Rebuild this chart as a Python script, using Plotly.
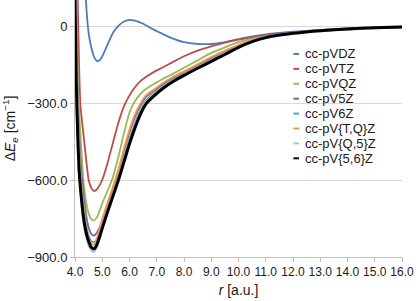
import plotly.graph_objects as go

# ---------------- data ----------------
r_dz = [4.3, 4.4, 4.5, 4.6, 4.7, 4.8, 4.9, 5.0, 5.2, 5.4, 5.6, 5.8, 6.0, 6.2, 6.5,
        6.8, 7.1, 7.5, 8.0, 8.5, 9.0, 9.5, 10.0, 10.5, 11.0, 12.0, 13.0, 14.0, 15.0, 16.0]
cc_pVDZ = [400, 105, -25, -82, -118, -133, -131, -115, -68, -22, 5, 21, 27, 24, 12,
           -6, -22, -42, -60, -67, -67, -60, -48, -37, -29, -19, -12, -6, -3, -1]

r = [4.0, 4.05, 4.1, 4.15, 4.2, 4.3, 4.4, 4.5, 4.6, 4.7, 4.8, 4.9, 5.0, 5.2, 5.4, 5.6, 5.8,
     6.0, 6.2, 6.4, 6.6, 6.9, 7.2, 7.6, 8.0, 8.5, 9.0, 9.5, 10.0, 10.5, 11.0, 11.5, 12.0,
     13.0, 14.0, 15.0, 16.0]
cc_pVTZ = [900, 480, 105, -150, -310, -410, -510, -598, -630, -642, -636, -620, -598, -530,
           -450, -372, -310, -268, -236, -212, -196, -176, -160, -137, -115, -93, -76, -62,
           -50, -41, -33, -27, -22, -13, -7, -3, -1]
cc_pVQZ = [600, 280, -200, -330, -420, -590, -680, -730, -752, -757, -745, -720, -690, -640,
           -585, -505, -415, -335, -290, -263, -243, -223, -205, -183, -160, -131, -102, -80,
           -60, -46, -37, -30, -24, -14, -7, -3, -1]
cc_pV5Z = [400, 60, -300, -420, -520, -640, -730, -785, -810, -816, -805, -785, -758, -695,
           -632, -562, -485, -412, -352, -308, -275, -250, -226, -199, -178, -150, -122, -96,
           -72, -53, -40, -31, -24, -14, -8, -3, -1]
cc_pV6Z = [300, -60, -360, -480, -575, -690, -770, -815, -838, -842, -832, -805, -772, -708,
           -645, -578, -508, -437, -375, -325, -288, -260, -233, -205, -184, -156, -129, -102,
           -76, -56, -41, -32, -25, -15, -8, -4, -1]
cc_pV_TQ_Z = [320, -40, -350, -475, -570, -690, -775, -825, -848, -851, -828, -790, -750, -685,
              -622, -555, -475, -402, -342, -300, -268, -245, -221, -195, -174, -146, -118, -93,
              -70, -52, -39, -31, -24, -14, -8, -3, -1]
cc_pV_Q5_Z = [150, -200, -410, -550, -620, -740, -810, -850, -872, -877, -858, -825, -788, -720,
              -657, -592, -524, -452, -390, -338, -298, -267, -240, -211, -188, -160, -133, -106,
              -79, -58, -42, -32, -25, -15, -8, -4, -1]
cc_pV_56_Z = [105, -230, -420, -560, -630, -735, -800, -838, -862, -868, -852, -822, -787, -722,
              -660, -597, -527, -457, -395, -342, -302, -270, -243, -214, -190, -162, -135, -108,
              -80, -58, -42, -32, -25, -15, -8, -4, -1]

series_names = ["cc-pVDZ", "cc-pVTZ", "cc-pVQZ", "cc-pV5Z", "cc-pV6Z",
                "cc-pV{T,Q}Z", "cc-pV{Q,5}Z", "cc-pV{5,6}Z"]
x_ticks = [4.0, 5.0, 6.0, 7.0, 8.0, 9.0, 10.0, 11.0, 12.0, 13.0, 14.0, 15.0, 16.0]
y_ticks = [0, -300, -600, -900]
y_tick_labels = ["0", "\u2212300.0", "\u2212600.0", "\u2212900.0"]

# ---------------- style ----------------
colors = ["#4a7ebb", "#be4b48", "#98b954", "#7d60a0", "#46aac5", "#f79646", "#a9c0e3", "#000000"]
widths = [1.8, 1.8, 1.8, 1.8, 1.8, 1.8, 3.0, 3.0]

xs = [r_dz] + [r] * 7
ys = [cc_pVDZ, cc_pVTZ, cc_pVQZ, cc_pV5Z, cc_pV6Z, cc_pV_TQ_Z, cc_pV_Q5_Z, cc_pV_56_Z]

fig = go.Figure()
for name, x, y, c, w in zip(series_names, xs, ys, colors, widths):
    fig.add_trace(go.Scatter(x=x, y=y, name=name, mode="lines",
                             line=dict(color=c, width=w, shape="spline", smoothing=0.6),
                             showlegend=False))

# custom compact legend (matches reference spacing)
x0, y0, dy = 0.668, 0.79, 0.058
for i, (name, c) in enumerate(zip(series_names, colors)):
    yy = y0 - i * dy
    fig.add_shape(type="line", xref="paper", yref="paper",
                  x0=x0, x1=x0 + 0.017, y0=yy, y1=yy,
                  line=dict(color=c, width=2))
    fig.add_annotation(xref="paper", yref="paper", x=x0 + 0.03, y=yy, text=name,
                       showarrow=False, xanchor="left", yanchor="middle",
                       font=dict(size=13, color="#1a1a1a"))

fig.update_layout(
    width=417, height=301,
    margin=dict(l=75, r=15, t=0, b=44),
    paper_bgcolor="white", plot_bgcolor="white",
    font=dict(family="Liberation Sans, Arial, sans-serif", color="#1a1a1a"),
)
fig.update_xaxes(range=[4, 16], tickvals=x_ticks, tickformat=".1f",
                 showgrid=False, showline=True, linecolor="#bfbfbf", linewidth=1,
                 ticks="outside", ticklen=4, tickcolor="#bfbfbf",
                 tickfont=dict(size=12), zeroline=False,
                 title=dict(text="<i>r</i> [a.u.]", font=dict(size=14), standoff=6))
fig.update_yaxes(range=[-900, 105], tickvals=y_ticks, ticktext=y_tick_labels,
                 showgrid=True, gridcolor="#d9d9d9", gridwidth=1,
                 showline=True, linecolor="#bfbfbf", linewidth=1,
                 ticks="outside", ticklen=4, tickcolor="#bfbfbf",
                 tickfont=dict(size=13), zeroline=False,
                 title=dict(text="\u0394<i>E</i><sub><i>e</i></sub> [cm<sup>\u22121</sup>]",
                            font=dict(size=14), standoff=8))

fig.write_html("out.html", config={"displayModeBar": False},
               post_script="document.body.style.margin='0';document.body.style.padding='0';")
